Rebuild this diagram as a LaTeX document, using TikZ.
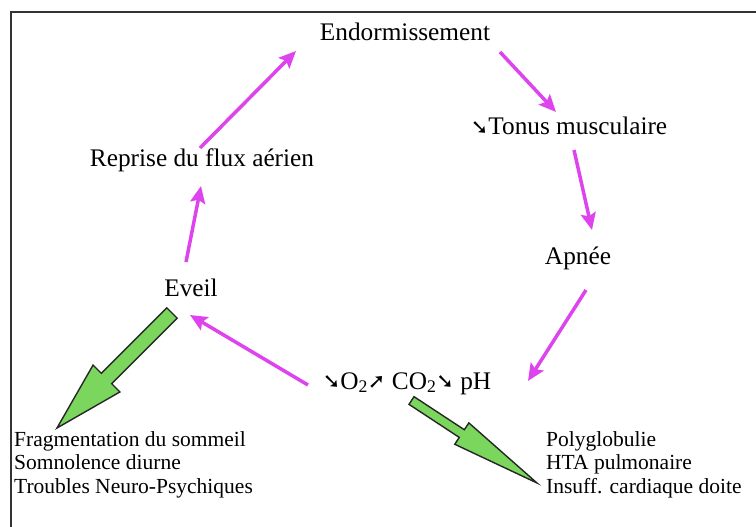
\documentclass[tikz,border=0pt]{standalone}
\usepackage{fontspec}
\setmainfont{Liberation Serif}
\newfontfamily\arrowfont{DejaVu Sans}
\usetikzlibrary{arrows.meta,calc}

\definecolor{cyclemagenta}{RGB}{222,68,238}
\definecolor{effectgreen}{RGB}{122,214,92}

% small heavy arrows used inside the labels
\newcommand\arrdn{{\arrowfont\fontsize{21}{21}\selectfont\raisebox{0.5pt}{➘}}}
\newcommand\arrup{{\arrowfont\fontsize{21}{21}\selectfont\raisebox{0.5pt}{➚}}}

% broad outlined arrow: start, tip, shaft half width, head half width, head length
\newcommand\fatarrow[5]{%
  \coordinate (#1-n) at ($(#2)!#5!(#1)$);
  \filldraw[greenarrow]
    ($(#1)!#3!90:(#2)$) -- ($(#1-n)!#3!90:(#2)$) -- ($(#1-n)!#4!90:(#2)$) --
    (#2) --
    ($(#1-n)!#4!-90:(#2)$) -- ($(#1-n)!#3!-90:(#2)$) -- ($(#1)!#3!-90:(#2)$) -- cycle;
}

\tikzset{
  stage/.style={inner sep=0pt, anchor=base, font=\fontsize{25.3}{30}\selectfont},
  effects/.style={inner sep=0pt, anchor=north west, align=left,
    font=\fontsize{21.5}{23.5}\selectfont},
  flow/.style={draw=cyclemagenta, line width=3.5pt,
    -{Stealth[length=17pt,width=15pt,inset=3pt]}},
  greenarrow/.style={fill=effectgreen, draw=black!85, line width=1.4pt, line join=miter},
  frame/.style={draw=black!80, line width=2pt}
}

\begin{document}
\begin{tikzpicture}[x=1pt,y=-1pt]
\useasboundingbox (0,0) rectangle (756,527);

% frame
\draw[frame] (11,527) -- (11,12) -- (756,12);

% stages of the cycle
\node[stage] (endorm)  at (405,41)  {Endormissement};
\node[stage] (tonus)   at (569,135) {\arrdn Tonus musculaire};
\node[stage] (apnee)   at (578,264) {Apnée};
\node[stage] (gaz)     at (407,389) {\arrdn O\textsubscript{2}\arrup{} CO\textsubscript{2}\arrdn{} pH};
\node[stage] (eveil)   at (191,296) {Eveil};
\node[stage] (reprise) at (202,166) {Reprise du flux aérien};

% consequences
\node[effects] (gauche) at (14,431)
  {Fragmentation du sommeil\\Somnolence diurne\\Troubles Neuro-Psychiques};
\node[effects] (droite) at (546,431)
  {Polyglobulie\\HTA pulmonaire\\Insuff. cardiaque doite};

% cycle arrows
\draw[flow] ([shift={(95,11)}]endorm.base)   -- ([shift={(-13,-23)}]tonus.base);
\draw[flow] ([shift={(5,15)}]tonus.base)     -- ([shift={(14,-34)}]apnee.base);
\draw[flow] ([shift={(8,26)}]apnee.base)     -- ([shift={(121,-8)}]gaz.base);
\draw[flow] ([shift={(-99,-4)}]gaz.base)     -- ([shift={(-1,19)}]eveil.base);
\draw[flow] ([shift={(-5,-34)}]eveil.base)   -- ([shift={(-1,20)}]reprise.base);
\draw[flow] ([shift={(-2,-18)}]reprise.base) -- ([shift={(-109,10)}]endorm.base);

% broad arrows towards the consequences
\coordinate (g1s) at ([shift={(-19,17)}]eveil.base);
\coordinate (g1e) at ([shift={(43,-3)}]gauche.north west);
\fatarrow{g1s}{g1e}{7.3pt}{19pt}{70pt}

\coordinate (g2s) at ([shift={(4.5,11.5)}]gaz.base);
\coordinate (g2e) at ([shift={(-9,52)}]droite.north west);
\fatarrow{g2s}{g2e}{4.6pt}{12.8pt}{90pt}
\end{tikzpicture}
\end{document}
